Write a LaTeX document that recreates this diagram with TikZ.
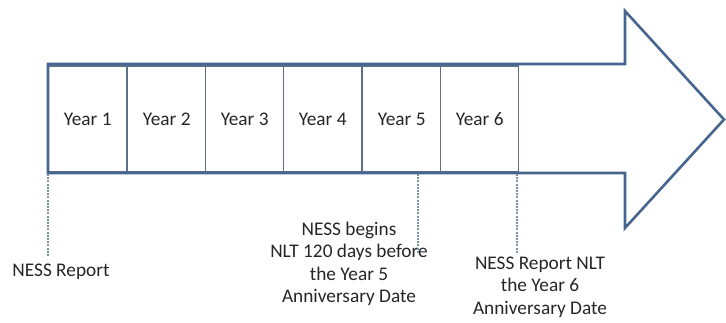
\documentclass[tikz,border=0pt]{standalone}
\usepackage{fontspec}
\setmainfont{Carlito}
\definecolor{arrowblue}{HTML}{46658F}
\definecolor{cellline}{HTML}{5C708C}
\definecolor{dashgray}{HTML}{8090A4}
\definecolor{txt}{HTML}{262626}
\begin{document}
\begin{tikzpicture}[x=1pt,y=-1pt,
  cellbox/.style={draw=cellline,line width=1.4pt,minimum width=78pt,minimum height=106pt,inner sep=0pt,anchor=north west,text=txt},
  lbl/.style={align=center,text=txt,font=\fontsize{19.3}{22.4}\selectfont,inner sep=0pt},
  leader/.style={draw=dashgray,line width=1.2pt,dash pattern=on 2pt off 1.2pt}]
\useasboundingbox (0,0) rectangle (726,323);
% cells
\foreach \i [count=\n] in {48,127,205,283,362,440} {
  \node[cellbox,font=\fontsize{19.3}{22}\selectfont] (y\n) at (\i,65.5) {Year \n};
}
% arrow outline
\draw[arrowblue,line width=2.6pt,line join=miter]
  (48,64) -- (625,64) -- (625,11) -- (724,119.5) -- (625,228) -- (625,173) -- (48,173) -- cycle;
% labels
\node[lbl] (l1) at (61,272) {NESS Report};
\node[lbl] (l2) at (349,264) {NESS begins\\NLT 120 days before\\the Year 5\\Anniversary Date};
\node[lbl] (l3) at (540,287) {NESS Report NLT\\the Year 6\\Anniversary Date};
% dashed leaders
\coordinate (d1) at (48,174);
\coordinate (e1) at (48,257);
\coordinate (d2) at (418,174);
\coordinate (e2) at (418,253);
\coordinate (d3) at (517,174);
\coordinate (e3) at (517,253);
\draw[leader] (d1) -- (e1);
\draw[leader] (d2) -- (e2);
\draw[leader] (d3) -- (e3);
\end{tikzpicture}
\end{document}
